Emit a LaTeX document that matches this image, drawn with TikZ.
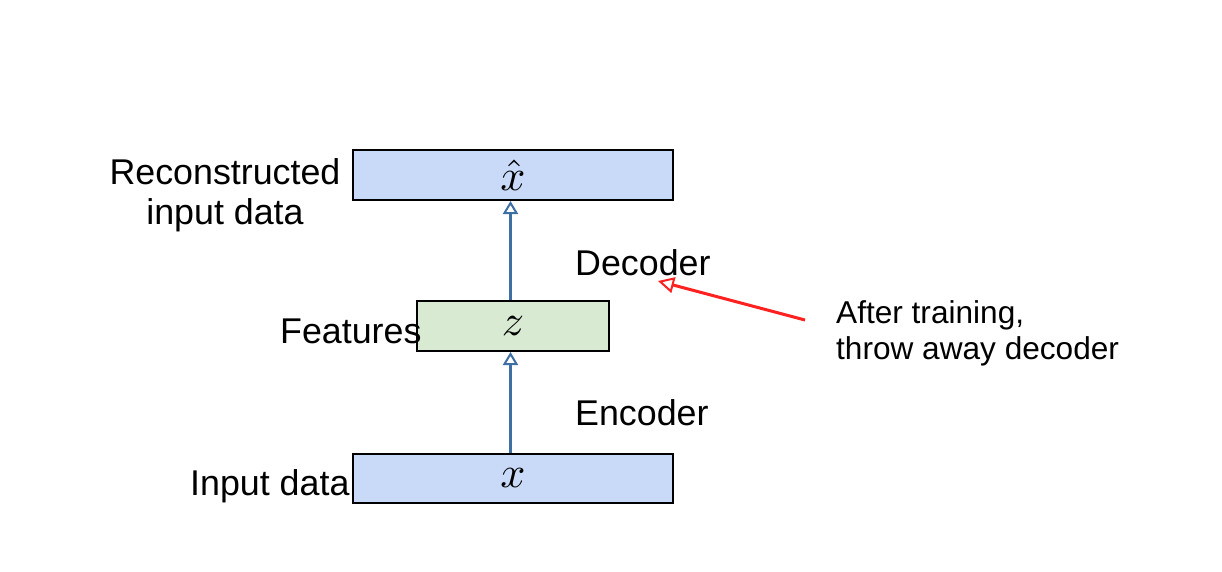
\documentclass[tikz,border=0pt]{standalone}
\usepackage{fontspec}
\setmainfont{Liberation Sans}
\usetikzlibrary{arrows.meta}
\definecolor{boxblue}{HTML}{C9DAF8}
\definecolor{boxgreen}{HTML}{D9EAD3}
\definecolor{arrblue}{HTML}{3D6FA5}
\definecolor{arrred}{HTML}{FF2020}
\newcommand{\bigmath}[1]{\scalebox{4.4}{$#1$}}
\begin{document}
\begin{tikzpicture}[x=1pt,y=-1pt,
  layer/.style={draw=black,line width=2pt,rectangle,inner sep=0pt,minimum height=50pt},
  lbl/.style={inner sep=0pt,font=\fontsize{35.8}{41}\selectfont},
  note/.style={inner sep=0pt,font=\fontsize{31.6}{36}\selectfont},
  flow/.style={draw=arrblue,line width=3pt,-{Triangle[open,length=13pt,width=15pt,line width=2pt]}},
  redarrow/.style={draw=arrred,line width=3pt,-{Triangle[open,length=16pt,width=16pt,line width=2pt]}}]
\useasboundingbox (0,0) rectangle (1222,571);
\node[layer,fill=boxblue,minimum width=320pt] (top) at (513,175) {\bigmath{\hat{x}}};
\node[layer,fill=boxgreen,minimum width=192pt] (mid) at (513,326) {\bigmath{z}};
\node[layer,fill=boxblue,minimum width=320pt,minimum height=49pt] (bot) at (513,478.5) {\bigmath{x}};
\draw[flow] ([xshift=-2.5pt]bot.north) -- ([xshift=-2.5pt]mid.south);
\draw[flow] ([xshift=-2.5pt]mid.north) -- ([xshift=-2.5pt]top.south);
\node[lbl,anchor=base] (rec1) at (225,184) {Reconstructed};
\node[lbl,anchor=base] (rec2) at (225,224) {input data};
\node[lbl,anchor=base west] (feat) at (280,343) {Features};
\node[lbl,anchor=base west] (inp) at (190,495) {Input data};
\node[lbl,anchor=base west] (dec) at (575,275) {Decoder};
\node[lbl,anchor=base west] (enc) at (575,425) {Encoder};
\node[note,anchor=base west] (n1) at (836,323) {After training,};
\node[note,anchor=base west] (n2) at (836,359) {throw away decoder};
\coordinate (rs) at (805,320);
\coordinate (re) at (658,281);
\draw[redarrow] (rs) -- (re);
\end{tikzpicture}
\end{document}
